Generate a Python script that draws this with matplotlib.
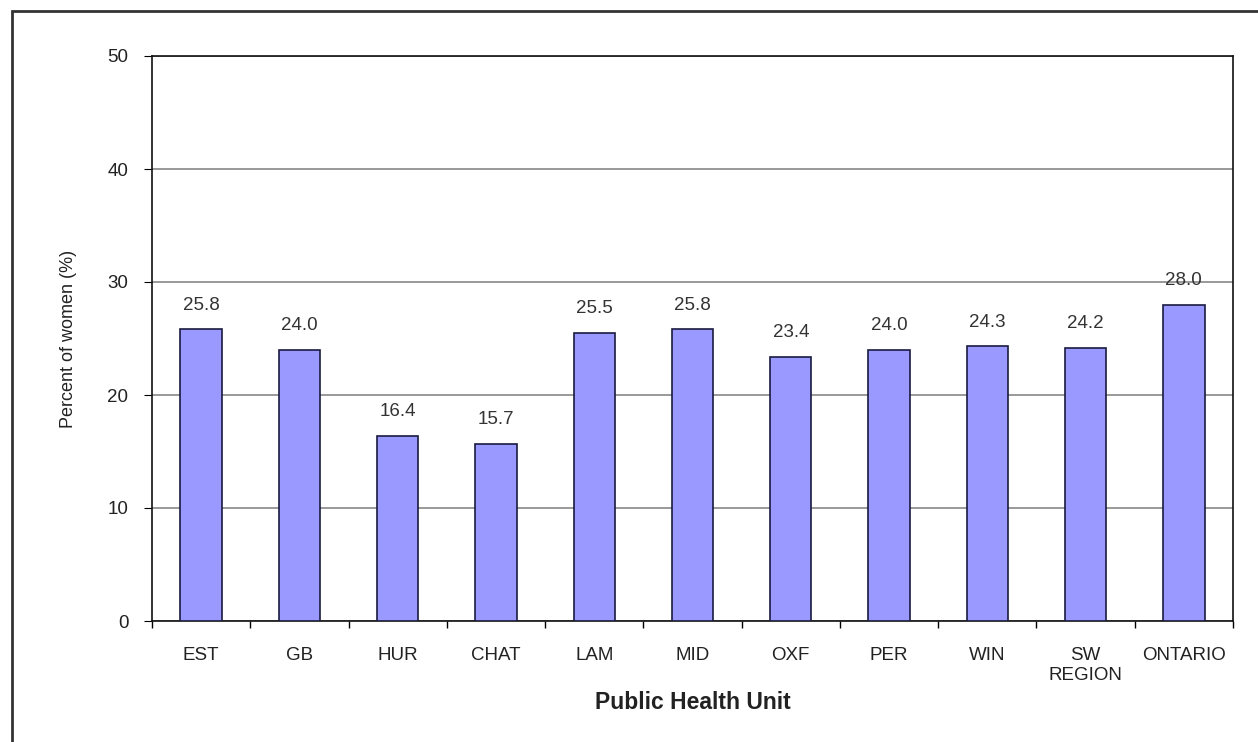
import matplotlib
matplotlib.use("Agg")
import matplotlib.pyplot as plt
from matplotlib.patches import Rectangle
import numpy as np

plt.rcParams['font.family'] = ['Liberation Sans', 'DejaVu Sans']

units = ['EST', 'GB', 'HUR', 'CHAT', 'LAM', 'MID', 'OXF', 'PER', 'WIN', 'SW\nREGION', 'ONTARIO']
values = [25.8, 24.0, 16.4, 15.7, 25.5, 25.8, 23.4, 24.0, 24.3, 24.2, 28.0]
yticks = [0, 10, 20, 30, 40, 50]

fig = plt.figure(figsize=(12.58, 7.42), dpi=100)
# outer frame around chart (runs off right and bottom)
fig.patches.append(Rectangle((12 / 1258, -0.05), 1.1, 1 - 11 / 742 + 0.05,
                             transform=fig.transFigure, fill=False,
                             edgecolor='#333333', linewidth=2))

ax = fig.add_axes([152 / 1258, 1 - 621 / 742, (1233 - 152) / 1258, (621 - 56) / 742])
x = np.arange(len(units))
ax.bar(x, values, width=0.42, color='#9999ff', edgecolor='#1a1a40', linewidth=1.2, zorder=3)
for xi, v in zip(x, values):
    ax.text(xi, v + 1.4, '%.1f' % v, ha='center', va='bottom', fontsize=13.5, color='#333333', zorder=4)

ax.set_xlim(-0.5, len(units) - 0.5)
ax.set_ylim(0, 50)
ax.set_yticks(yticks)
ax.yaxis.grid(True, color='#888888', linewidth=1.2, zorder=0)
ax.set_xticks(x)
ax.set_xticklabels(units, fontsize=13.5, linespacing=1.2, color='#222222')
ax.set_xticks(np.arange(-0.5, len(units)), minor=True)
ax.tick_params(axis='x', which='major', length=0, pad=19)
ax.tick_params(axis='x', which='minor', length=5, direction='out', width=1)
ax.tick_params(axis='y', length=6, direction='out', labelsize=13.5, pad=11, labelcolor='#222222')
for s in ax.spines.values():
    s.set_color('#111111')
    s.set_linewidth(1.2)

ax.set_ylabel('Percent of women (%)', fontsize=13, labelpad=22, color='#222222')
ax.set_xlabel('Public Health Unit', fontsize=16.5, fontweight='bold', labelpad=5, color='#222222')

fig.savefig('out.png', dpi=100)
